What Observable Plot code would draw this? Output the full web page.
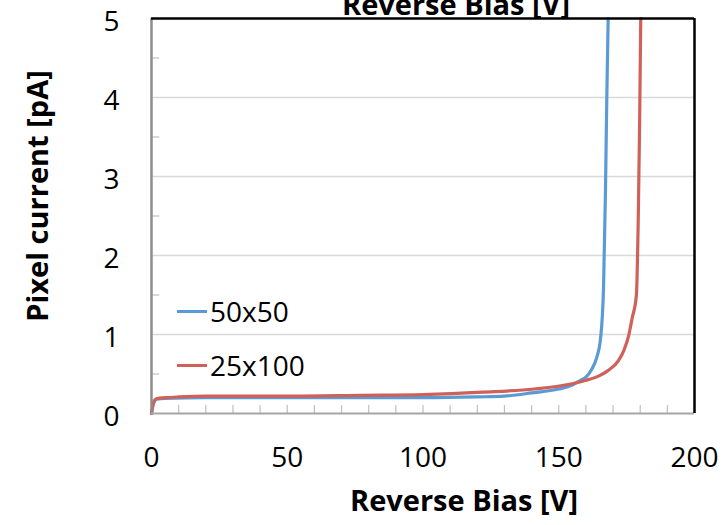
<!DOCTYPE html>
<html>
<head>
<meta charset="utf-8">
<script src="https://cdn.jsdelivr.net/npm/d3@7"></script>
<script src="https://cdn.jsdelivr.net/npm/@observablehq/plot@0.6"></script>
<style>
  html, body { margin: 0; padding: 0; background: #fff; }
  #wrap { position: relative; width: 722px; height: 525px; overflow: hidden; font-family: "Open Sans", sans-serif; }
  .leg { position: absolute; display: flex; align-items: center; font-size: 28px; line-height: 38px; color: #000; }
  .leg span.sw { display: inline-block; width: 30px; height: 3px; margin-right: 3px; }
</style>
</head>
<body>
<div id="wrap"></div>
<script>
// ---- data ----
const title = "Reverse Bias [V]";
const xLabel = "Reverse Bias [V]";
const yLabel = "Pixel current [pA]";
const seriesNames = ["50x50", "25x100"];
const seriesColors = ["#5b9bd5", "#d0605a"];

const blueV = [0, 0.5, 1, 2, 5, 20, 50, 80, 100, 120, 130, 140, 150, 155, 158, 160, 162, 164, 165.4, 166.5, 167.2, 167.7, 168.2];
const blueI = [0, 0.10, 0.15, 0.18, 0.19, 0.20, 0.20, 0.20, 0.20, 0.21, 0.22, 0.26, 0.31, 0.36, 0.42, 0.46, 0.55, 0.71, 0.95, 1.6, 2.8, 4.0, 5.0];

const redV = [0, 0.5, 1, 2, 5, 10, 20, 50, 77, 100, 122, 141, 154, 160, 165, 168, 172, 174, 175.7, 177, 178.6, 179.3, 179.8, 180.2];
const redI = [0, 0.10, 0.16, 0.19, 0.20, 0.21, 0.22, 0.22, 0.23, 0.24, 0.27, 0.31, 0.37, 0.42, 0.48, 0.54, 0.67, 0.80, 0.98, 1.2, 1.5, 2.5, 3.7, 5.0];

const xTicks = [0, 50, 100, 150, 200];
const xMinorTicks = [10, 20, 30, 40, 50, 60, 70, 80, 90, 100, 110, 120, 130, 140, 150, 160, 170, 180, 190];
const yTicks = [0, 1, 2, 3, 4, 5];
const yGrid = [1, 2, 3, 4];
const yMinorTicks = [0.5, 1.5, 2.5, 3.5, 4.5];

const data = [
  ...blueV.map((v, i) => ({ series: seriesNames[0], V: v, I: blueI[i] })),
  ...redV.map((v, i) => ({ series: seriesNames[1], V: v, I: redI[i] }))
];

const chart = Plot.plot({
  width: 722,
  height: 525,
  marginLeft: 151,
  marginRight: 28,
  marginTop: 18,
  marginBottom: 112,
  style: { fontFamily: "Open Sans, sans-serif", background: "white", overflow: "visible" },
  x: { domain: [0, 200] },
  y: { domain: [0, 5] },
  color: { domain: seriesNames, range: seriesColors },
  marks: [
    Plot.ruleY(yGrid, { stroke: "#d9d9d9", strokeWidth: 1.5 }),
    Plot.ruleY(yMinorTicks, { x1: 0, x2: 3, stroke: "#bfbfbf", strokeWidth: 1.2 }),
    Plot.ruleX(xMinorTicks, { y1: 0, y2: 0.1, stroke: "#bfbfbf", strokeWidth: 1.2 }),
    Plot.line(data, { x: "V", y: "I", z: "series", stroke: "series", strokeWidth: 3.2, curve: "monotone-x" }),
    Plot.ruleX([0], { stroke: "#8c8c8c", strokeWidth: 2.5 }),
    Plot.ruleY([0], { stroke: "#a6a6a6", strokeWidth: 2 }),
    Plot.ruleX([200], { stroke: "#000", strokeWidth: 2.5 }),
    Plot.ruleY([5], { stroke: "#000", strokeWidth: 2.5 }),
    Plot.axisX(xTicks, { tickSize: 0, tickPadding: 34, fontSize: 28, fill: "#000", label: null, tickFormat: "d" }),
    Plot.axisY(yTicks, { tickSize: 0, tickPadding: 32, fontSize: 28, fill: "#000", dy: 4, label: null, tickFormat: "d" }),
    Plot.text([xLabel], { frameAnchor: "bottom", dx: 41, dy: 97, fontSize: 29, fontWeight: "bold", fill: "#000" }),
    Plot.text([yLabel], { frameAnchor: "left", textAnchor: "middle", rotate: -90, dx: -113, dy: -20, fontSize: 29, fontWeight: "bold", fill: "#000" }),
    Plot.text([title], { frameAnchor: "top", dx: 33, dy: -24, fontSize: 29, fontWeight: "bold", fill: "#000" })
  ]
});

const wrap = document.getElementById("wrap");
wrap.appendChild(chart);

// legend
const legTops = [292, 346];
seriesNames.forEach((name, i) => {
  const d = document.createElement("div");
  d.className = "leg";
  d.style.left = "177px";
  d.style.top = legTops[i] + "px";
  d.innerHTML = `<span class="sw" style="background:${seriesColors[i]}"></span><span>${name}</span>`;
  wrap.appendChild(d);
});
</script>
</body>
</html>
